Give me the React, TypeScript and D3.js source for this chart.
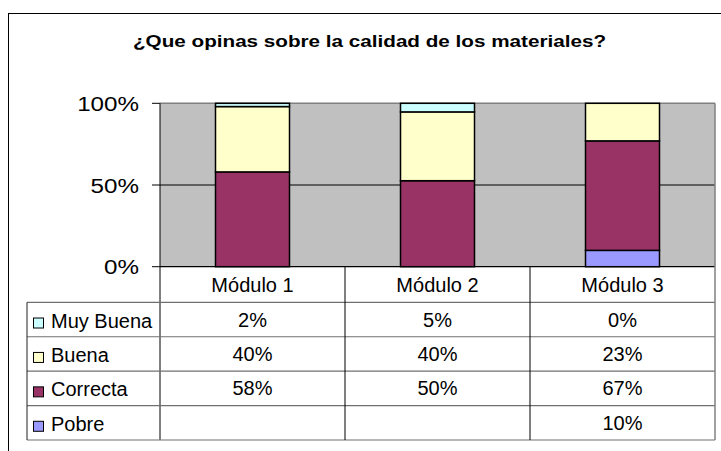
import React from "react";
import * as d3 from "d3";

const title = "¿Que opinas sobre la calidad de los materiales?";
const categories = ["Módulo 1", "Módulo 2", "Módulo 3"];
const seriesNames = ["Muy Buena", "Buena", "Correcta", "Pobre"];
const muyBuena: (number | null)[] = [2, 5, 0];
const buena: (number | null)[] = [40, 40, 23];
const correcta: (number | null)[] = [58, 50, 67];
const pobre: (number | null)[] = [null, null, 10];
const yTicks = [0, 0.5, 1];

const seriesValues: Record<string, (number | null)[]> = {
  "Muy Buena": muyBuena,
  Buena: buena,
  Correcta: correcta,
  Pobre: pobre,
};
const colors: Record<string, string> = {
  "Muy Buena": "#CCFFFF",
  Buena: "#FFFFCC",
  Correcta: "#993366",
  Pobre: "#9999FF",
};

const W = 721;
const H = 451;
const plotL = 160;
const plotR = 715;
const plotT = 103.3;
const plotB = 266.7;
const headerB = 302.3;
const tableB = 440;
const tableL = 27;
const font = "'Liberation Sans', Arial, sans-serif";

export default function App() {
  const x = d3.scaleBand<string>().domain(categories).range([plotL, plotR]).padding(0);
  const y = d3.scaleLinear().domain([0, 1]).range([plotB, plotT]);
  const rowScale = d3
    .scaleBand<string>()
    .domain(seriesNames)
    .range([headerB, tableB])
    .padding(0);

  const table = categories.map((c, i) => {
    const o: any = { cat: c };
    seriesNames.forEach((s) => (o[s] = seriesValues[s][i] ?? 0));
    return o;
  });
  const stackKeys = ["Pobre", "Correcta", "Buena", "Muy Buena"];
  const stacked = d3.stack<any>().keys(stackKeys).offset(d3.stackOffsetExpand)(table);
  const barW = x.bandwidth() * 0.4;
  const fmt = (v: number | null) => (v == null ? "" : `${v}%`);

  return (
    <svg
      width={W}
      height={H}
      style={{ position: "absolute", left: 0, top: 0, display: "block", background: "#fff" }}
      fontFamily={font}
    >
      <rect x={0} y={0} width={W} height={H} fill="#fff" />
      {/* chart frame */}
      <rect x={8.5} y={13.5} width={900} height={600} fill="none" stroke="#000" strokeWidth={1} />
      {/* title */}
      <text
        x={133}
        y={47}
        fontSize={16.5}
        fontWeight="bold"
        textLength={473}
        lengthAdjust="spacingAndGlyphs"
        fill="#000"
      >
        {title}
      </text>

      {/* plot area */}
      <rect x={plotL} y={plotT} width={plotR - plotL} height={plotB - plotT} fill="#C0C0C0" />
      {/* gridlines */}
      {yTicks
        .filter((t) => t > 0 && t < 1)
        .map((t) => (
          <line key={t} x1={plotL} x2={plotR} y1={y(t)} y2={y(t)} stroke="#000" strokeWidth={1} />
        ))}
      {/* plot border */}
      <line x1={plotL} x2={plotR} y1={plotT} y2={plotT} stroke="#808080" strokeWidth={1.5} />

      {/* bars */}
      {stacked.map((layer) => (
        <g key={layer.key}>
          {layer.map((d, i) => {
            const v = seriesValues[layer.key][i];
            if (v == null) return null;
            return (
              <rect
                key={i}
                x={(x(categories[i]) as number) + (x.bandwidth() - barW) / 2}
                y={y(d[1])}
                width={barW}
                height={Math.max(0, y(d[0]) - y(d[1]))}
                fill={colors[layer.key]}
                stroke="#000"
                strokeWidth={1.5}
              />
            );
          })}
        </g>
      ))}

      {/* y axis */}
      <line x1={plotL} x2={plotL} y1={plotT} y2={tableB} stroke="#000" strokeWidth={1} />
      {yTicks.map((t) => (
        <g key={t}>
          <line x1={plotL - 8} x2={plotL} y1={y(t)} y2={y(t)} stroke="#000" strokeWidth={1} />
          <g transform={`translate(139,${y(t) + 7.5}) scale(1.18,1)`}>
            <text x={0} y={0} fontSize={20.5} textAnchor="end" fill="#000">
              {d3.format(".0%")(t)}
            </text>
          </g>
        </g>
      ))}
      {/* x axis line */}
      <line x1={plotL} x2={plotR} y1={plotB} y2={plotB} stroke="#000" strokeWidth={1.2} />

      {/* data table */}
      {seriesNames.map((s) => (
        <line
          key={s}
          x1={tableL}
          x2={plotR}
          y1={rowScale(s) as number}
          y2={rowScale(s) as number}
          stroke="#707070"
          strokeWidth={1.2}
        />
      ))}
      <line x1={tableL} x2={plotR} y1={tableB} y2={tableB} stroke="#707070" strokeWidth={1.2} />
      <line x1={tableL} x2={tableL} y1={headerB} y2={tableB} stroke="#202020" strokeWidth={1} />
      {categories.map((c, i) =>
        i > 0 ? (
          <line
            key={c}
            x1={x(c) as number}
            x2={x(c) as number}
            y1={plotB}
            y2={tableB}
            stroke="#000"
            strokeWidth={1}
          />
        ) : null
      )}
      <line x1={plotR} x2={plotR} y1={plotT} y2={tableB} stroke="#808080" strokeWidth={1.5} />

      {/* header row */}
      {categories.map((c) => (
        <text
          key={c}
          x={(x(c) as number) + x.bandwidth() / 2}
          y={(plotB + headerB) / 2 + 7}
          fontSize={20}
          textAnchor="middle"
          fill="#000"
        >
          {c}
        </text>
      ))}

      {/* rows */}
      {seriesNames.map((s) => {
        const top = rowScale(s) as number;
        const cy = top + rowScale.bandwidth() / 2;
        return (
          <g key={s}>
            <rect x={33.5} y={cy - 1.5} width={10} height={10} fill={colors[s]} stroke="#000" strokeWidth={1} />
            <text x={51} y={cy + 8} fontSize={20} fill="#000">
              {s}
            </text>
            {categories.map((c, i) => (
              <text
                key={c}
                x={(x(c) as number) + x.bandwidth() / 2}
                y={cy + 7}
                fontSize={20}
                textAnchor="middle"
                fill="#000"
              >
                {fmt(seriesValues[s][i])}
              </text>
            ))}
          </g>
        );
      })}
    </svg>
  );
}
